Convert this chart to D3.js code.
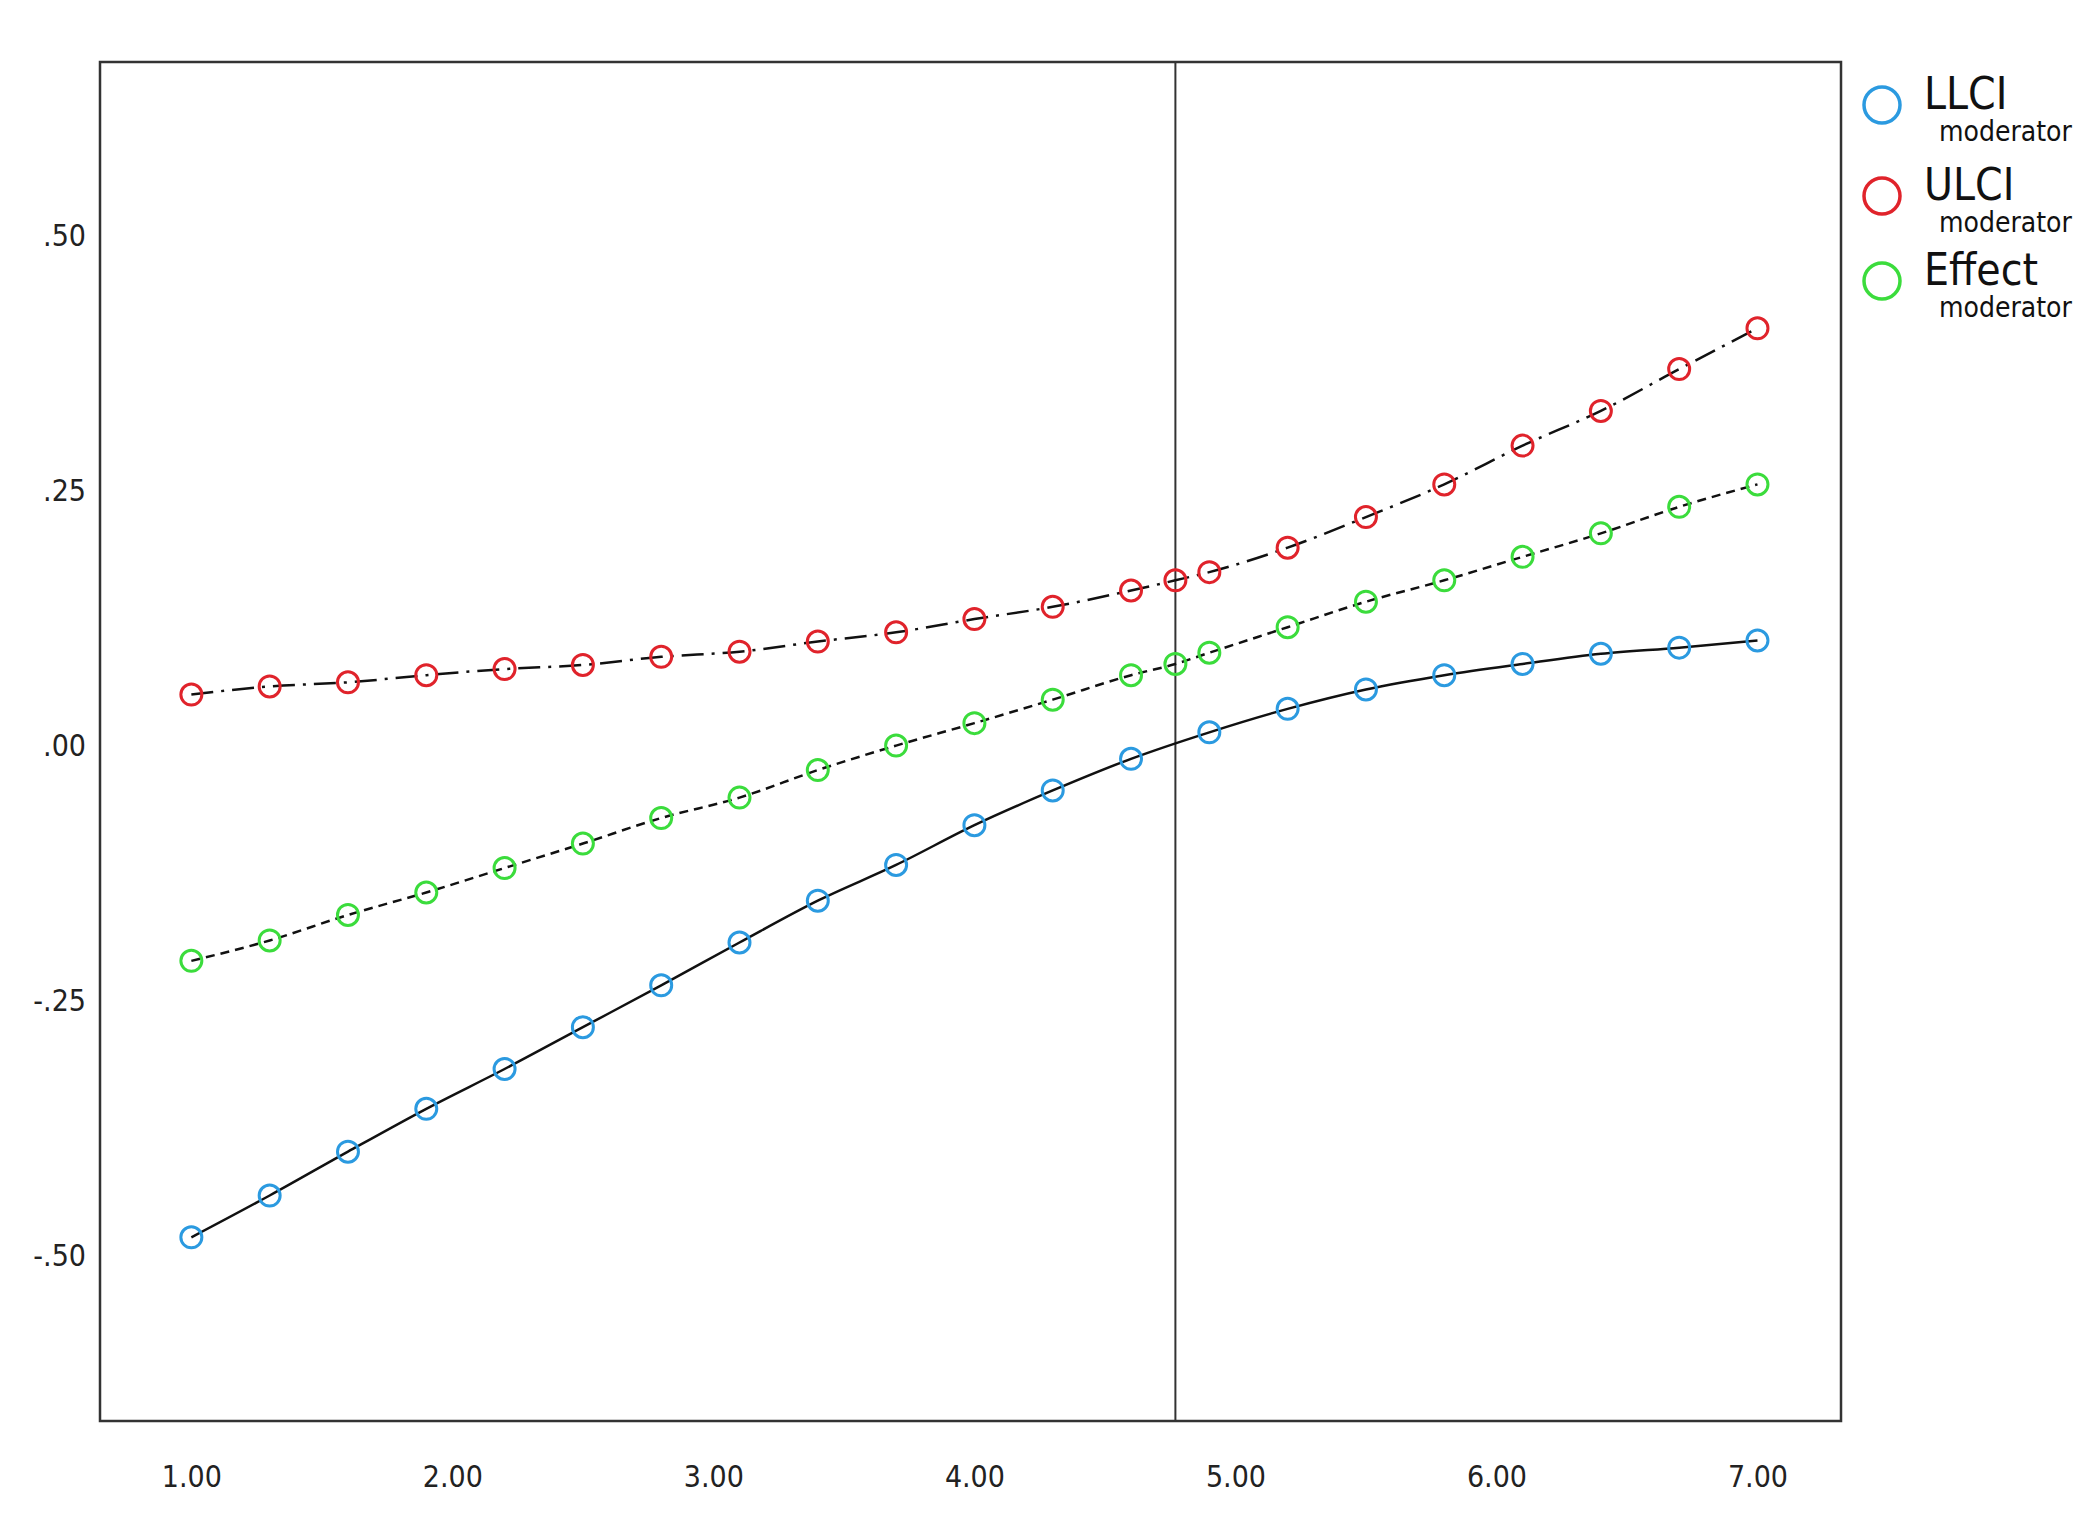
<!DOCTYPE html>
<html><head><meta charset="utf-8">
<script src="https://cdn.jsdelivr.net/npm/d3@7"></script>
<style>body{margin:0;background:#fff}</style></head>
<body><svg id="c" width="2100" height="1521"></svg>
<script>
const xLL=[1.0,1.3,1.6,1.9,2.2,2.5,2.8,3.1,3.4,3.7,4.0,4.3,4.6,4.9,5.2,5.5,5.8,6.1,6.4,6.7,7.0];
const llci=[-0.482,-0.441,-0.398,-0.356,-0.317,-0.276,-0.235,-0.193,-0.152,-0.117,-0.078,-0.044,-0.013,0.013,0.036,0.055,0.069,0.080,0.090,0.096,0.103];
const xUL=[1.0,1.3,1.6,1.9,2.2,2.5,2.8,3.1,3.4,3.7,4.0,4.3,4.6,4.77,4.9,5.2,5.5,5.8,6.1,6.4,6.7,7.0];
const ulci=[0.050,0.058,0.062,0.069,0.075,0.079,0.087,0.092,0.102,0.111,0.124,0.136,0.152,0.162,0.170,0.194,0.224,0.256,0.294,0.328,0.369,0.409];
const effect=[-0.211,-0.191,-0.166,-0.144,-0.120,-0.096,-0.071,-0.051,-0.024,0.0,0.022,0.045,0.069,0.080,0.091,0.116,0.141,0.162,0.185,0.208,0.234,0.256];
const xTicks=[1,2,3,4,5,6,7];
const yTicks=[-0.5,-0.25,0,0.25,0.5];
const vline=4.77;
const svg=d3.select("#c");
const L=100,R=1841,T=62,B=1421;
const x=d3.scaleLinear().domain([0.65,7.32]).range([L,R]);
const y=d3.scaleLinear().domain([-0.662,0.67]).range([B,T]);
const font="'Liberation Sans Narrow','DejaVu Sans Condensed',sans-serif";
svg.append("rect").attr("x",L).attr("y",T).attr("width",R-L).attr("height",B-T).attr("fill","none").attr("stroke","#333").attr("stroke-width",2.5);
const fmt=v=>{let s=Math.abs(v).toFixed(2).replace(/^0/,"");return (v<0?"-":"")+s;};
svg.append("g").attr("transform",`translate(0,${B})`).call(d3.axisBottom(x).tickValues(xTicks).tickSize(0).tickPadding(45).tickFormat(d=>d.toFixed(2)))
 .call(g=>{g.select(".domain").remove();g.selectAll("text").attr("font-family",font).attr("font-size",30).attr("fill","#222");});
svg.append("g").attr("transform",`translate(${L},0)`).call(d3.axisLeft(y).tickValues(yTicks).tickSize(0).tickPadding(14).tickFormat(fmt))
 .call(g=>{g.select(".domain").remove();g.selectAll("text").attr("font-family",font).attr("font-size",30).attr("fill","#222");});
svg.append("line").attr("x1",x(vline)).attr("x2",x(vline)).attr("y1",T).attr("y2",B).attr("stroke","#333").attr("stroke-width",2);
const line=d3.line().curve(d3.curveMonotoneX).x(d=>x(d[0])).y(d=>y(d[1]));
const series=[
 {xs:xLL,ys:llci,col:"#2b9ae0",dash:null},
 {xs:xUL,ys:ulci,col:"#e0232b",dash:"22,8,3,8"},
 {xs:xUL,ys:effect,col:"#3bdc3c",dash:"9,6"}];
series.forEach(s=>{
 const pts=s.xs.map((v,i)=>[v,s.ys[i]]);
 svg.append("path").datum(pts).attr("d",line).attr("fill","none").attr("stroke","#111").attr("stroke-width",2.5).attr("stroke-dasharray",s.dash);
 svg.append("g").selectAll("circle").data(pts).join("circle").attr("cx",d=>x(d[0])).attr("cy",d=>y(d[1])).attr("r",10.5)
  .attr("fill","none").attr("stroke",s.col).attr("stroke-width",3);
});
const leg=[["LLCI","#2b9ae0",105],["ULCI","#e0232b",196],["Effect","#3bdc3c",281]];
leg.forEach(([t,c,cy])=>{
 svg.append("circle").attr("cx",1882).attr("cy",cy).attr("r",18).attr("fill","none").attr("stroke",c).attr("stroke-width",3.5);
 svg.append("text").attr("x",1924).attr("y",cy+4).attr("font-family",font).attr("font-size",44).attr("fill","#111").text(t);
 svg.append("text").attr("x",1939).attr("y",cy+36).attr("font-family",font).attr("font-size",28).attr("fill","#111").text("moderator");
});
</script></body></html>
